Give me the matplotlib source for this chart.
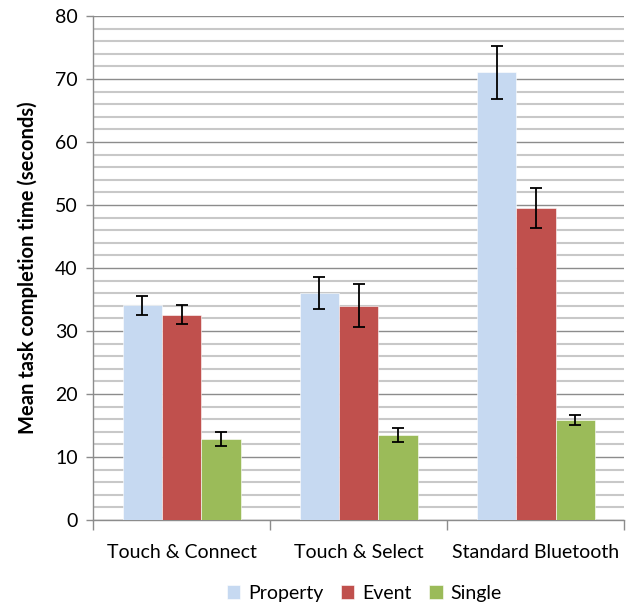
import numpy as np
import matplotlib.pyplot as plt
from matplotlib.ticker import MultipleLocator, FixedLocator

plt.rcParams['font.family'] = ['Lato', 'DejaVu Sans']

categories = ['Touch & Connect', 'Touch & Select', 'Standard Bluetooth']
series = ['Property', 'Event', 'Single']
means = {
    'Property': [34.1, 36.0, 71.1],
    'Event': [32.6, 34.0, 49.5],
    'Single': [12.9, 13.5, 15.9],
}
errors = {
    'Property': [1.5, 2.5, 4.2],
    'Event': [1.5, 3.4, 3.2],
    'Single': [1.1, 1.05, 0.8],
}
colors = {'Property': '#C6D9F1', 'Event': '#C0504D', 'Single': '#9BBB59'}

fig = plt.figure(figsize=(6.26, 6.05), dpi=100)
ax = fig.add_axes([0.1486, 0.1405, 0.849, 0.8331])

x = np.arange(len(categories))
w = 0.222
for i, s in enumerate(series):
    ax.bar(x + (i - 1) * w, means[s], w, color=colors[s], label=s,
           edgecolor='white', linewidth=0.4, zorder=3)
    ax.errorbar(x + (i - 1) * w, means[s], yerr=errors[s], fmt='none',
                ecolor='black', elinewidth=1.3, capsize=4, capthick=1.3, zorder=4)

ax.set_xlim(-0.5, 2.5)
ax.set_ylim(0, 80)
ax.yaxis.set_major_locator(MultipleLocator(10))
ax.yaxis.set_minor_locator(MultipleLocator(2))
ax.grid(which='major', axis='y', color='#8C8C8C', linewidth=1.0, zorder=1)
ax.grid(which='minor', axis='y', color='#C8C8C8', linewidth=1.5, zorder=1)

ax.xaxis.set_major_locator(FixedLocator(x))
ax.xaxis.set_minor_locator(FixedLocator([-0.5, 0.5, 1.5, 2.5]))
ax.set_xticklabels(categories, fontsize=14)
ax.tick_params(axis='x', which='major', length=0, pad=17)
ax.tick_params(axis='x', which='minor', length=7, color='#8C8C8C', width=1)
ax.tick_params(axis='y', which='major', length=5, color='#8C8C8C', width=1,
               labelsize=14, pad=6)
ax.tick_params(axis='y', which='minor', length=0)

for side in ['top', 'right']:
    ax.spines[side].set_visible(False)
for side in ['left', 'bottom']:
    ax.spines[side].set_color('#8C8C8C')
    ax.spines[side].set_linewidth(1)

ax.set_ylabel('Mean task completion time (seconds)', fontsize=14.5,
              fontweight='bold', labelpad=12)

ax.legend(loc='center', bbox_to_anchor=(0.51, -0.146), ncol=3,
          frameon=False, fontsize=14, handlelength=0.7, handleheight=0.7,
          handletextpad=0.4, columnspacing=0.9)

fig.savefig('out.png', dpi=100)
